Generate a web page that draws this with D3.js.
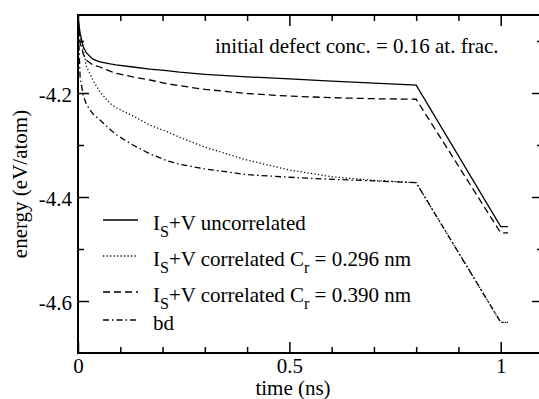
<!DOCTYPE html>
<html><head><meta charset="utf-8">
<script src="https://cdn.jsdelivr.net/npm/d3@7"></script>
</head>
<body style="margin:0;background:#fff"><svg id="c" width="539" height="399" font-family="Liberation Serif"></svg>
<script>
// ---- data ----
const times = [0, 0.005, 0.0125, 0.02, 0.035, 0.052, 0.076, 0.09, 0.13, 0.17, 0.21, 0.24, 0.3, 0.4, 0.5, 0.6, 0.7, 0.8, 1.0, 1.017];
const eUncorrelated = [-4.055, -4.085, -4.111, -4.123, -4.135, -4.140, -4.144, -4.146, -4.150, -4.154, -4.157, -4.160, -4.164, -4.169, -4.173, -4.177, -4.181, -4.185, -4.457, -4.457];
const eCorr296 = [-4.055, -4.095, -4.117, -4.149, -4.175, -4.198, -4.220, -4.228, -4.244, -4.262, -4.274, -4.285, -4.304, -4.329, -4.348, -4.361, -4.368, -4.3725, -4.641, -4.641];
const eCorr390 = [-4.055, -4.104, -4.125, -4.137, -4.146, -4.150, -4.158, -4.162, -4.169, -4.175, -4.182, -4.186, -4.193, -4.201, -4.206, -4.209, -4.211, -4.212, -4.469, -4.469];
const eBd = [-4.055, -4.17, -4.205, -4.222, -4.240, -4.252, -4.270, -4.280, -4.300, -4.317, -4.330, -4.337, -4.346, -4.357, -4.362, -4.366, -4.369, -4.3725, -4.641, -4.641];
const xMajor = [0, 0.5, 1];
const xMinor = [0.1, 0.2, 0.3, 0.4, 0.6, 0.7, 0.8, 0.9];
const xLabels = ["0", "0.5", "1"];
const yMajor = [-4.2, -4.4, -4.6];
const yMinor = [-4.1, -4.3, -4.5];
const yLabels = ["-4.2", "-4.4", "-4.6"];
const seriesNames = [
  ["I", "S", "+V uncorrelated", ""],
  ["I", "S", "+V correlated C", "r", " = 0.296 nm"],
  ["I", "S", "+V correlated C", "r", " = 0.390 nm"],
  ["bd"]
];
const annotation = "initial defect conc. = 0.16 at. frac.";

// ---- chart ----
const svg = d3.select("#c");
const L = 78, R = 543, T = 15, B = 353;
const x = d3.scaleLinear().domain([0, 1.1]).range([L, R]);
const y = d3.scaleLinear().domain([-4.7, -4.05]).range([B, T]);
const FS = 21;
const FF = "Liberation Serif";

const series = [
  {vals: eUncorrelated, dash: null},
  {vals: eCorr296, dash: "1.2,2.3"},
  {vals: eCorr390, dash: "7,4"},
  {vals: eBd, dash: "6,3,1.5,3"}
];
const line = d3.line().x((d,i)=>x(times[i])).y(d=>y(d));
series.forEach(s=>{
  svg.append("path").datum(s.vals).attr("d", line)
    .attr("fill","none").attr("stroke","#000").attr("stroke-width",1.3)
    .attr("stroke-dasharray", s.dash);
});

function styleAxis(g){
  g.attr("font-family", FF);
  g.select(".domain").remove();
  g.selectAll("line").attr("stroke","#000").attr("stroke-width",1.5);
  g.selectAll("text").attr("font-size",FS).attr("font-family",FF).attr("fill","#000");
}
// bottom
svg.append("g").attr("transform",`translate(0,${B})`)
  .call(d3.axisBottom(x).tickValues(xMajor).tickSize(-11).tickPadding(5).tickFormat((d,i)=>xLabels[i])).call(styleAxis);
svg.append("g").attr("transform",`translate(0,${B})`)
  .call(d3.axisBottom(x).tickValues(xMinor).tickSize(-6).tickFormat("")).call(styleAxis);
// top
svg.append("g").attr("transform",`translate(0,${T})`)
  .call(d3.axisTop(x).tickValues(xMajor).tickSize(-11).tickFormat("")).call(styleAxis);
svg.append("g").attr("transform",`translate(0,${T})`)
  .call(d3.axisTop(x).tickValues(xMinor).tickSize(-6).tickFormat("")).call(styleAxis);
// left
const gl = svg.append("g").attr("transform",`translate(${L},0)`)
  .call(d3.axisLeft(y).tickValues(yMajor).tickSize(-11).tickPadding(6).tickFormat((d,i)=>yLabels[i])).call(styleAxis);
gl.selectAll("text").attr("dy","0.41em");
svg.append("g").attr("transform",`translate(${L},0)`)
  .call(d3.axisLeft(y).tickValues(yMinor).tickSize(-6).tickFormat("")).call(styleAxis);
// right
svg.append("g").attr("transform",`translate(${R},0)`)
  .call(d3.axisRight(y).tickValues(yMajor).tickSize(-11).tickFormat("")).call(styleAxis);
svg.append("g").attr("transform",`translate(${R},0)`)
  .call(d3.axisRight(y).tickValues(yMinor).tickSize(-6).tickFormat("")).call(styleAxis);

// frame
svg.append("rect").attr("x",L).attr("y",T).attr("width",R-L).attr("height",B-T)
  .attr("fill","none").attr("stroke","#000").attr("stroke-width",2);

// axis titles
svg.append("text").attr("x",293).attr("y",395).attr("text-anchor","middle")
  .attr("font-family",FF).attr("font-size",FS).text("time (ns)");
svg.append("text").attr("transform","translate(27,184) rotate(-90)").attr("text-anchor","middle")
  .attr("font-family",FF).attr("font-size",FS).text("energy (eV/atom)");

// annotation
svg.append("text").attr("x",215).attr("y",53).attr("font-family",FF).attr("font-size",FS).text(annotation);

// legend
const legY = [220, 256, 292, 320];
seriesNames.forEach((parts,i)=>{
  svg.append("line").attr("x1",103).attr("x2",138).attr("y1",legY[i]).attr("y2",legY[i])
    .attr("stroke","#000").attr("stroke-width",1.3).attr("stroke-dasharray",series[i].dash);
  const t = svg.append("text").attr("x",153).attr("y",legY[i]+10).attr("font-family",FF).attr("font-size",FS);
  parts.forEach((p,k)=>{
    if(!p) return;
    const sub = (k % 2 === 1);
    const ts = t.append("tspan").attr("font-family",FF).text(p);
    if(sub){ ts.attr("font-size",16).attr("dy",7); }
    else if(k>0){ ts.attr("dy",-7); }
  });
});
</script></body></html>
